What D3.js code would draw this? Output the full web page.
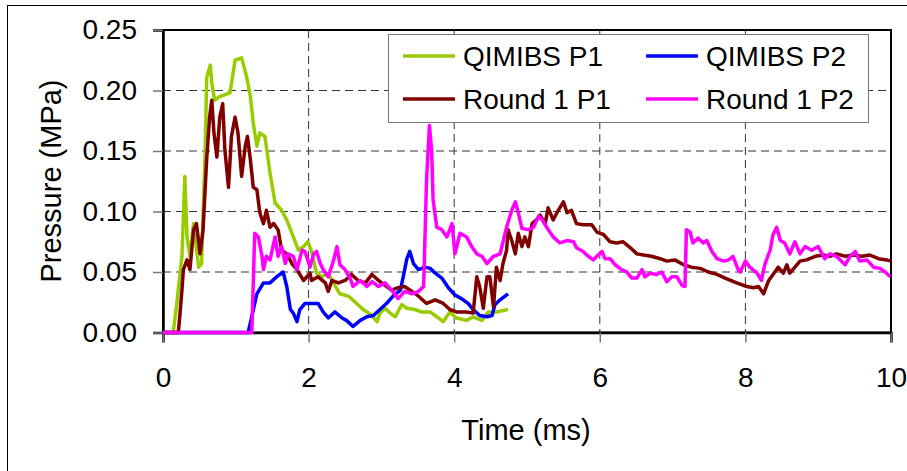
<!DOCTYPE html>
<html>
<head>
<meta charset="utf-8">
<script src="https://cdn.jsdelivr.net/npm/d3@7"></script>
<style>
  body { margin: 0; background: #fff; }
  svg { display: block; font-family: "Liberation Sans", Arial, sans-serif; }
  .grid line { stroke: #333; stroke-dasharray: 8,5; }
  .series { fill: none; stroke-width: 3.5; stroke-linejoin: round; }
</style>
</head>
<body>
<div id="chart"></div>
<script>
// data: [time (ms), pressure (MPa)]
const qimibsP1 = [[0,0],[0.14,0],[0.19,0.024],[0.26,0.063],[0.30,0.129],[0.33,0.079],[0.37,0.063],[0.42,0.090],
  [0.49,0.054],[0.53,0.057],[0.58,0.151],[0.60,0.211],[0.65,0.221],[0.67,0.206],[0.71,0.192],[0.78,0.195],
  [0.92,0.198],[0.97,0.217],[0.99,0.225],[1.08,0.227],[1.15,0.211],[1.20,0.195],[1.24,0.173],[1.29,0.154],
  [1.33,0.165],[1.40,0.162],[1.47,0.132],[1.54,0.107],[1.63,0.101],[1.70,0.093],[1.79,0.079],[1.86,0.068],
  [1.93,0.071],[1.99,0.075],[2.04,0.067],[2.11,0.049],[2.18,0.046],[2.27,0.049],[2.34,0.041],[2.43,0.032],
  [2.55,0.030],[2.66,0.024],[2.75,0.019],[2.87,0.014],[2.94,0.009],[2.98,0.016],[3.05,0.020],[3.12,0.016],
  [3.19,0.013],[3.28,0.023],[3.35,0.020],[3.46,0.019],[3.55,0.017],[3.67,0.017],[3.76,0.013],[3.85,0.009],
  [3.94,0.017],[4.03,0.012],[4.17,0.010],[4.26,0.013],[4.38,0.010],[4.47,0.017],[4.58,0.017],[4.74,0.019]];

const qimibsP2 = [[0,0],[1.17,0],[1.20,0.008],[1.26,0.024],[1.29,0.032],[1.38,0.041],[1.47,0.041],[1.56,0.046],
  [1.65,0.050],[1.70,0.038],[1.75,0.019],[1.79,0.016],[1.84,0.009],[1.88,0.019],[1.95,0.024],[2.02,0.024],
  [2.13,0.024],[2.20,0.017],[2.27,0.012],[2.36,0.017],[2.46,0.012],[2.52,0.010],[2.61,0.005],[2.71,0.010],
  [2.80,0.013],[2.89,0.014],[2.98,0.019],[3.07,0.024],[3.16,0.030],[3.26,0.035],[3.30,0.046],[3.35,0.061],
  [3.39,0.067],[3.44,0.057],[3.51,0.052],[3.60,0.054],[3.67,0.053],[3.74,0.049],[3.83,0.045],[3.92,0.037],
  [4.01,0.031],[4.10,0.028],[4.19,0.024],[4.26,0.019],[4.35,0.014],[4.45,0.013],[4.52,0.014],[4.56,0.023],
  [4.63,0.027],[4.74,0.032]];

const round1P1 = [[0,0],[0.21,0],[0.23,0.013],[0.26,0.035],[0.28,0.052],[0.33,0.060],[0.37,0.052],[0.42,0.085],
  [0.46,0.090],[0.51,0.065],[0.55,0.085],[0.60,0.143],[0.64,0.178],[0.67,0.192],[0.70,0.165],[0.74,0.145],
  [0.78,0.178],[0.82,0.189],[0.85,0.151],[0.90,0.120],[0.94,0.162],[0.99,0.178],[1.03,0.165],[1.08,0.129],
  [1.13,0.154],[1.16,0.162],[1.20,0.143],[1.24,0.120],[1.29,0.118],[1.33,0.099],[1.38,0.090],[1.42,0.101],
  [1.47,0.087],[1.52,0.090],[1.58,0.085],[1.63,0.068],[1.70,0.065],[1.77,0.057],[1.84,0.052],[1.93,0.043],
  [2.02,0.049],[2.04,0.043],[2.13,0.046],[2.23,0.041],[2.27,0.034],[2.32,0.043],[2.41,0.041],[2.50,0.043],
  [2.59,0.048],[2.68,0.043],[2.78,0.041],[2.87,0.048],[2.96,0.043],[3.05,0.039],[3.14,0.035],[3.23,0.037],
  [3.32,0.038],[3.42,0.034],[3.51,0.030],[3.62,0.024],[3.74,0.027],[3.85,0.024],[3.94,0.019],[4.03,0.017],
  [4.17,0.017],[4.26,0.016],[4.31,0.046],[4.35,0.038],[4.40,0.020],[4.45,0.046],[4.49,0.046],[4.54,0.021],
  [4.58,0.054],[4.63,0.043],[4.67,0.057],[4.72,0.068],[4.74,0.085],[4.79,0.076],[4.84,0.065],[4.88,0.082],
  [4.93,0.071],[4.97,0.079],[5.02,0.071],[5.07,0.090],[5.13,0.093],[5.18,0.097],[5.25,0.090],[5.29,0.103],
  [5.36,0.093],[5.43,0.101],[5.50,0.108],[5.55,0.099],[5.61,0.101],[5.68,0.090],[5.77,0.089],[5.89,0.089],
  [5.96,0.083],[6.05,0.081],[6.14,0.075],[6.23,0.074],[6.32,0.075],[6.42,0.070],[6.51,0.065],[6.60,0.064],
  [6.71,0.063],[6.83,0.061],[6.92,0.059],[7.03,0.060],[7.15,0.056],[7.26,0.054],[7.38,0.053],[7.49,0.050],
  [7.61,0.048],[7.72,0.045],[7.88,0.041],[8.02,0.038],[8.11,0.037],[8.18,0.038],[8.25,0.032],[8.32,0.043],
  [8.38,0.048],[8.45,0.054],[8.52,0.049],[8.57,0.056],[8.61,0.049],[8.68,0.054],[8.75,0.059],[8.84,0.060],
  [8.96,0.063],[9.07,0.064],[9.16,0.063],[9.25,0.065],[9.37,0.063],[9.48,0.064],[9.60,0.063],[9.71,0.064],
  [9.83,0.061],[9.94,0.060],[10.0,0.059]];

const round1P2 = [[0,0],[1.22,0],[1.26,0.082],[1.31,0.079],[1.36,0.063],[1.38,0.052],[1.42,0.063],[1.47,0.060],
  [1.54,0.079],[1.58,0.063],[1.63,0.071],[1.68,0.057],[1.72,0.065],[1.79,0.063],[1.84,0.052],[1.91,0.068],
  [1.95,0.067],[2.02,0.054],[2.07,0.065],[2.11,0.067],[2.16,0.057],[2.20,0.052],[2.27,0.046],[2.34,0.059],
  [2.39,0.071],[2.43,0.056],[2.50,0.052],[2.57,0.045],[2.61,0.038],[2.71,0.043],[2.80,0.038],[2.87,0.042],
  [2.96,0.038],[3.05,0.041],[3.14,0.035],[3.23,0.028],[3.32,0.034],[3.42,0.032],[3.51,0.034],[3.58,0.038],
  [3.62,0.126],[3.66,0.171],[3.69,0.151],[3.71,0.110],[3.76,0.087],[3.83,0.085],[3.90,0.079],[3.97,0.090],
  [4.01,0.065],[4.08,0.082],[4.17,0.079],[4.24,0.071],[4.31,0.065],[4.38,0.063],[4.45,0.057],[4.54,0.063],
  [4.63,0.065],[4.72,0.087],[4.79,0.101],[4.84,0.108],[4.88,0.099],[4.93,0.086],[5.02,0.085],[5.09,0.087],
  [5.16,0.096],[5.20,0.094],[5.27,0.087],[5.36,0.079],[5.45,0.074],[5.55,0.076],[5.64,0.075],[5.68,0.070],
  [5.77,0.067],[5.84,0.063],[5.91,0.060],[5.96,0.063],[6.03,0.067],[6.07,0.061],[6.14,0.061],[6.21,0.056],
  [6.30,0.052],[6.37,0.050],[6.44,0.045],[6.51,0.045],[6.58,0.052],[6.62,0.046],[6.69,0.049],[6.78,0.048],
  [6.85,0.050],[6.92,0.042],[6.99,0.046],[7.06,0.046],[7.13,0.039],[7.17,0.038],[7.19,0.085],[7.24,0.083],
  [7.28,0.074],[7.35,0.078],[7.42,0.074],[7.47,0.076],[7.54,0.067],[7.61,0.061],[7.70,0.059],[7.77,0.060],
  [7.83,0.063],[7.90,0.052],[7.93,0.050],[8.00,0.059],[8.06,0.054],[8.16,0.049],[8.22,0.043],[8.27,0.057],
  [8.34,0.068],[8.38,0.081],[8.43,0.087],[8.48,0.076],[8.54,0.074],[8.61,0.065],[8.68,0.075],[8.75,0.065],
  [8.82,0.071],[8.91,0.068],[9.00,0.071],[9.09,0.061],[9.16,0.065],[9.25,0.063],[9.37,0.056],[9.44,0.063],
  [9.51,0.067],[9.57,0.059],[9.67,0.060],[9.76,0.054],[9.85,0.053],[9.92,0.050],[9.99,0.046]];

const seriesNames = ["QIMIBS P1", "QIMIBS P2", "Round 1 P1", "Round 1 P2"];
const seriesColors = ["#99cc00", "#0000ff", "#800000", "#ff00ff"];
const xTicks = [0, 2, 4, 6, 8, 10];
const yTicks = [0, 0.05, 0.10, 0.15, 0.20, 0.25];

const width = 907, height = 471;
const margin = { top: 30, right: 16, bottom: 138.5, left: 163 };
const w = 891 - margin.left, h = 332.5 - margin.top;

const svg = d3.select("#chart").append("svg")
  .attr("width", width)
  .attr("height", height);

// outer chart frame
svg.append("rect")
  .attr("x", 7.5).attr("y", 5.5)
  .attr("width", 1000).attr("height", 1000)
  .attr("fill", "none").attr("stroke", "#000");

const g = svg.append("g")
  .attr("transform", `translate(${margin.left},${margin.top})`);

const x = d3.scaleLinear().domain([0, 10]).range([0, w]);
const y = d3.scaleLinear().domain([0, 0.25]).range([h, 0]);

// gridlines
g.append("g").attr("class", "grid")
  .selectAll("line").data(yTicks.slice(1, -1)).join("line")
  .attr("x1", 0).attr("x2", w)
  .attr("y1", d => y(d)).attr("y2", d => y(d));
g.append("g").attr("class", "grid")
  .selectAll("line").data(xTicks.slice(1, -1)).join("line")
  .attr("y1", 0).attr("y2", h)
  .attr("x1", d => x(d)).attr("x2", d => x(d));

// plot frame
g.append("rect")
  .attr("width", w).attr("height", h)
  .attr("fill", "none").attr("stroke", "#000").attr("stroke-width", 2);

const xAxis = g.append("g")
  .attr("transform", `translate(0,${h})`)
  .call(d3.axisBottom(x).tickValues(xTicks).tickFormat(d3.format("d")).tickSize(10).tickPadding(25));
const yAxis = g.append("g")
  .call(d3.axisLeft(y).tickValues(yTicks).tickFormat(d3.format(".2f")).tickSize(10).tickPadding(16));

[xAxis, yAxis].forEach(a => {
  a.select(".domain").attr("stroke", "#000").attr("stroke-width", 2.5);
  a.selectAll(".tick line").attr("stroke", "#777").attr("stroke-width", 1.5);
  a.selectAll(".tick text").attr("font-size", 28).attr("fill", "#000")
    .attr("font-family", "'Liberation Sans', Arial, sans-serif");
});

// axis titles
svg.append("text")
  .attr("x", 526).attr("y", 440)
  .attr("text-anchor", "middle")
  .attr("font-size", 29)
  .text("Time (ms)");
svg.append("text")
  .attr("transform", "translate(61,181) rotate(-90)")
  .attr("text-anchor", "middle")
  .attr("font-size", 29)
  .text("Pressure (MPa)");

// lines
const line = d3.line()
  .x(d => x(d[0]))
  .y(d => y(d[1]));

const allSeries = [qimibsP1, qimibsP2, round1P1, round1P2];
g.selectAll(".series")
  .data(allSeries)
  .join("path")
  .attr("class", "series")
  .attr("stroke", (d, i) => seriesColors[i])
  .attr("d", line);

// legend
const legend = svg.append("g").attr("transform", "translate(388,34)");
legend.append("rect")
  .attr("x", 0.5).attr("y", 0.5)
  .attr("width", 480).attr("height", 88)
  .attr("fill", "#fff").attr("stroke", "#777");

const items = legend.selectAll(".item")
  .data(seriesNames)
  .join("g")
  .attr("class", "item")
  .attr("transform", (d, i) => `translate(${i % 2 ? 258 : 15},${i < 2 ? 22 : 65})`);
items.append("line")
  .attr("x1", 0).attr("x2", 52)
  .attr("stroke", (d, i) => seriesColors[i])
  .attr("stroke-width", 3.5);
items.append("text")
  .attr("x", 60).attr("dy", "0.35em")
  .attr("font-size", 28)
  .text(d => d);
</script>
</body>
</html>
